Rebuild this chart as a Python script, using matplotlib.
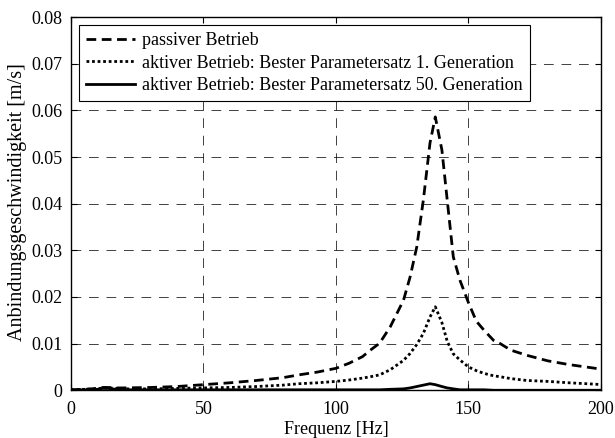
"""
Anbindungsgeschwindigkeit ueber Frequenz
passiver vs. aktiver Betrieb
"""

import numpy as np
import matplotlib.pyplot as plt

# ----------------------------------------------------
# Data
# ----------------------------------------------------

freq = [0, 5, 10, 12, 14, 17, 20, 30, 40, 50, 60, 70, 80, 86, 93, 100,
        105, 110, 113, 116.5, 120.5, 125.5, 128, 130.5, 133, 135.5, 137.5,
        140, 142, 144.3, 146.8, 150, 153, 156, 159.5, 162, 166, 172, 180,
        188, 198, 200]

passiv = [0.0001, 0.0002, 0.0004, 0.0006, 0.0006, 0.0005, 0.0005, 0.0006,
          0.0008, 0.0012, 0.0016, 0.0021, 0.0027, 0.0033, 0.0039, 0.0047,
          0.0058, 0.0072, 0.0086, 0.0101, 0.0136, 0.0193, 0.0243, 0.0307,
          0.0408, 0.0530, 0.0586, 0.0515, 0.0408, 0.0286, 0.0236, 0.0188,
          0.0148, 0.0128, 0.0107, 0.0100, 0.0086, 0.0075, 0.0063, 0.0055,
          0.0047, 0.0046]

aktiv_gen1 = [0.0001, 0.0002, 0.0003, 0.0005, 0.0005, 0.0004, 0.0003,
              0.0003, 0.0004, 0.0005, 0.0006, 0.0008, 0.0011, 0.0014,
              0.0016, 0.0019, 0.0022, 0.0026, 0.0029, 0.0033, 0.0044,
              0.0064, 0.0079, 0.0098, 0.0122, 0.0157, 0.0179, 0.0145,
              0.0105, 0.0078, 0.0065, 0.0050, 0.0042, 0.0036, 0.0031,
              0.0029, 0.0025, 0.0021, 0.0019, 0.0016, 0.0013, 0.0012]

aktiv_gen50 = [0.0000, 0.0001, 0.0002, 0.0004, 0.0004, 0.0002, 0.0001,
               0.0001, 0.0001, 0.0001, 0.0001, 0.0001, 0.0001, 0.0001,
               0.0001, 0.0001, 0.0001, 0.0001, 0.0001, 0.0001, 0.0002,
               0.0003, 0.0005, 0.0008, 0.0011, 0.0014, 0.0012, 0.0008,
               0.0005, 0.0003, 0.0001, 0.0001, 0.0001, 0.0001, 0.0000,
               0.0000, 0.0000, 0.0000, 0.0000, 0.0000, 0.0000, 0.0000]

labels = [
    "passiver Betrieb",
    "aktiver Betrieb: Bester Parametersatz 1. Generation",
    "aktiver Betrieb: Bester Parametersatz 50. Generation",
]

# ----------------------------------------------------
# Plot
# ----------------------------------------------------

plt.rcParams["font.family"] = ["Liberation Serif", "DejaVu Serif"]
plt.rcParams["font.size"] = 13

fig = plt.figure(figsize=(6.15, 4.38), dpi=100)
ax = fig.add_axes([0.1155, 0.109, 0.8615, 0.852])

ax.plot(freq, passiv, color="black", linestyle=(0, (3.5, 2)), linewidth=2,
        label=labels[0])
ax.plot(freq, aktiv_gen1, color="black", linestyle=(0, (1, 1)),
        linewidth=2, label=labels[1])
ax.plot(freq, aktiv_gen50, color="black", linestyle="-", linewidth=2,
        label=labels[2])

ax.set_xlim(0, 200)
ax.set_ylim(0, 0.08)
ax.set_xticks([0, 50, 100, 150, 200])
ax.set_yticks(np.arange(0, 0.0801, 0.01))
ax.set_yticklabels(["0", "0.01", "0.02", "0.03", "0.04", "0.05", "0.06",
                    "0.07", "0.08"])

ax.grid(True, color="black", linestyle=(0, (10, 8)), linewidth=0.7,
        alpha=0.75)
ax.tick_params(direction="in", length=4, top=True, right=True)
ax.tick_params(axis="x", pad=8)
ax.tick_params(axis="y", pad=6)
for spine in ax.spines.values():
    spine.set_linewidth(1.0)

ax.set_xlabel("Frequenz [Hz]", labelpad=2)
ax.set_ylabel("Anbindungsgeschwindigkeit [m/s]", fontsize=14.5)
ax.yaxis.set_label_coords(-0.083, 0.505)

leg = ax.legend(loc="upper left", bbox_to_anchor=(0.015, 0.979),
                borderaxespad=0, fancybox=False, framealpha=1,
                edgecolor="black", handlelength=2.7, borderpad=0.4,
                labelspacing=0.3, handletextpad=0.4)
leg.get_frame().set_linewidth(0.8)

plt.savefig("out.png", dpi=100)
plt.close()
